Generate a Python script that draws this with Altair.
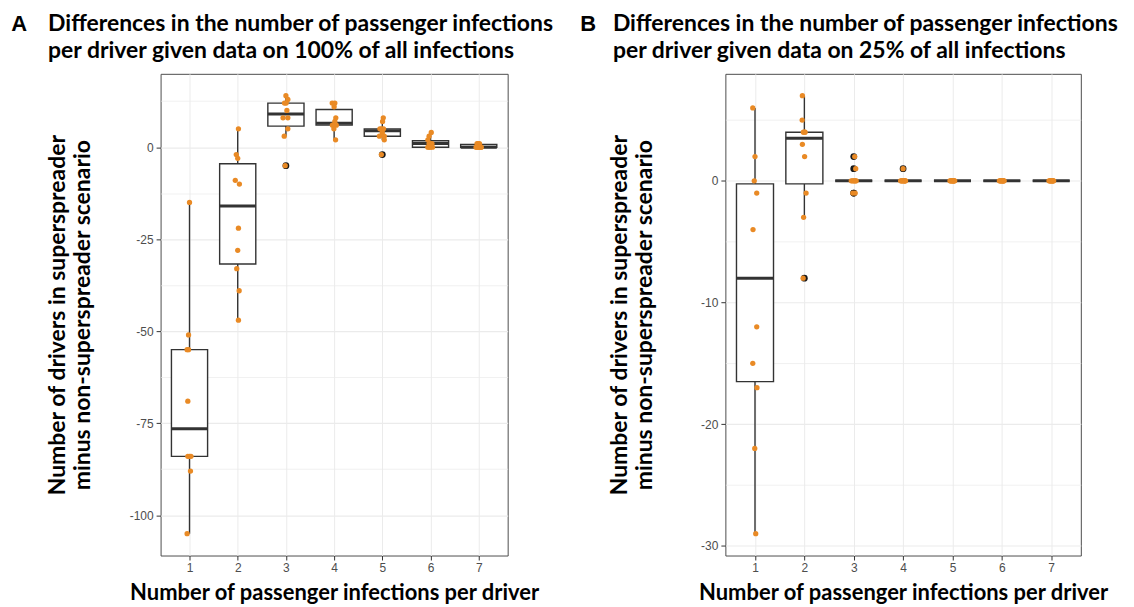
import math
import altair as alt
import pandas as pd

# ---------------- data ----------------
categories = [1, 2, 3, 4, 5, 6, 7]

# Panel A (100% of infections): values per category, with small horizontal jitter
a_cat1 = [-15, -51, -55, -55, -69, -84, -84, -84, -88, -105]
a_cat2 = [5, -2, -3, -9, -10, -22, -28, -33, -39, -47]
a_cat3 = [14, 13, 12, 12, 10, 8, 8, 5, 3, -5]
a_cat4 = [12, 12, 11, 8, 7, 6, 6, 6, 5, 2]
a_cat5 = [8, 7, 5, 5, 5, 4, 3, 3, 2, -2]
a_cat6 = [4, 3, 2, 1, 1, 1, 0, 0, 0, 0]
a_cat7 = [1, 1, 1, 0, 0, 0, 0, 0, 0, 0]

a_jit1 = [0.0, -0.02, -0.05, -0.02, -0.035, -0.035, 0.0, 0.03, 0.02, -0.05]
a_jit2 = [0.015, -0.03, 0.0, -0.05, 0.035, 0.015, 0.0, -0.02, 0.03, 0.015]
a_jit3 = [0.0, 0.04, 0.005, -0.03, 0.02, -0.06, 0.04, 0.04, -0.035, -0.015]
a_jit4 = [-0.04, 0.015, 0.0, 0.035, 0.015, -0.035, 0.045, 0.0, -0.005, 0.03]
a_jit5 = [0.02, 0.005, -0.015, 0.025, -0.05, 0.0, -0.06, 0.04, 0.04, -0.02]
a_jit6 = [0.015, -0.03, -0.055, -0.03, 0.03, 0.0, -0.055, 0.0, 0.04, -0.03]
a_jit7 = [-0.015, 0.015, -0.035, -0.055, 0.05, -0.02, 0.03, 0.0, 0.045, -0.04]

# Panel B (25% of infections)
b_cat1 = [6, 2, 0, -1, -4, -12, -15, -17, -22, -29]
b_cat2 = [7, 5, 4, 4, 4, 3, 2, -1, -3, -8]
b_cat3 = [2, 1, 0, 0, 0, 0, 0, 0, -1, -1]
b_cat4 = [1, 0, 0, 0, 0, 0, 0, 0, 0, 0]
b_cat5 = [0, 0, 0, 0, 0, 0, 0, 0, 0, 0]
b_cat6 = [0, 0, 0, 0, 0, 0, 0, 0, 0, 0]
b_cat7 = [0, 0, 0, 0, 0, 0, 0, 0, 0, 0]

b_jit1 = [-0.045, 0.0, -0.015, 0.035, -0.04, 0.035, -0.045, 0.04, -0.005, 0.015]
b_jit2 = [-0.04, -0.045, 0.0, -0.02, 0.015, -0.04, 0.005, 0.035, -0.015, -0.025]
b_jit3 = [0.02, 0.04, -0.05, 0.035, 0.0, -0.025, 0.05, 0.015, -0.02, 0.03]
b_jit4 = [0.0, -0.05, 0.035, -0.02, 0.05, 0.01, -0.035, 0.025, -0.01, 0.04]
b_jit5 = [-0.04, 0.03, -0.01, 0.045, -0.025, 0.015, 0.0, -0.05, 0.035, 0.01]
b_jit6 = [0.03, -0.035, 0.01, -0.015, 0.045, -0.05, 0.02, 0.0, -0.025, 0.04]
b_jit7 = [-0.02, 0.04, -0.045, 0.01, 0.025, -0.01, 0.05, -0.03, 0.0, 0.035]

title_a = ["Differences in the number of passenger infections",
           "per driver given data on 100% of all infections"]
title_b = ["Differences in the number of passenger infections",
           "per driver given data on 25% of all infections"]
y_title = ["Number of drivers in superspreader", "minus non-superspreader scenario"]
x_title = "Number of passenger infections per driver"

ORANGE = "#E98A25"
DARK = "#333333"
TITLE_FONT = "Lato"
FS = 23


def make_df(vals_lists, jit_lists):
    rows = []
    for c, vals, jits in zip(categories, vals_lists, jit_lists):
        for v, j in zip(vals, jits):
            rows.append({"cat": c, "value": v, "xj": c + j})
    return pd.DataFrame(rows)


def panel(df, letter, title_lines, major, letter_x, title_x, y_title_pad, width, height):
    vmin, vmax = float(df.value.min()), float(df.value.max())
    ext = (vmax - vmin) * 0.05
    ydom = [vmin - ext, vmax + ext]
    minor = major / 2.0
    kmin = math.ceil(ydom[0] / minor)
    kmax = math.floor(ydom[1] / minor)
    yvals = [k * minor for k in range(kmin, kmax + 1)]
    test = f"abs(datum.value % {major}) < 1e-9"

    xscale = alt.Scale(domain=[0.4, 7.6], nice=False, zero=False)
    yscale = alt.Scale(domain=ydom, nice=False, zero=False)

    xaxis = alt.Axis(values=categories, format="d", title=x_title, grid=True,
                     titlePadding=9.5, labelPadding=2.5, labelOverlap=False,
                     titleFontSize=22)
    yaxis = alt.Axis(values=yvals, title=y_title, grid=True, labelOverlap=False,
                     labelExpr=f"{test} ? toString(datum.value) : ''",
                     tickOpacity={"condition": {"test": test, "value": 1}, "value": 0},
                     gridWidth={"condition": {"test": test, "value": 1.1}, "value": 0.7},
                     titlePadding=y_title_pad, labelPadding=3, titleFontSize=FS)

    def X(field):
        return alt.X(field, scale=xscale, axis=xaxis)

    def Y(field):
        return alt.Y(field, scale=yscale, axis=yaxis)

    base = alt.Chart(df)

    fenced = base.transform_joinaggregate(
        q1="q1(value)", q3="q3(value)", groupby=["cat"]
    ).transform_calculate(
        lo="datum.q1 - 1.5 * (datum.q3 - datum.q1)",
        hi="datum.q3 + 1.5 * (datum.q3 - datum.q1)",
    )

    whiskers = fenced.transform_filter(
        "datum.value >= datum.lo && datum.value <= datum.hi"
    ).transform_aggregate(
        wmin="min(value)", wmax="max(value)", groupby=["cat"]
    ).mark_rule(color=DARK, strokeWidth=1.4).encode(
        x=X("cat:Q"), y=Y("wmin:Q"), y2="wmax:Q",
    )

    stats = base.transform_aggregate(
        q1="q1(value)", q3="q3(value)", med="median(value)", groupby=["cat"]
    ).transform_calculate(xl="datum.cat - 0.375", xr="datum.cat + 0.375")

    boxes = stats.mark_rect(fill="white", stroke=DARK, strokeWidth=1.4).encode(
        x=X("xl:Q"), x2="xr:Q", y=Y("q1:Q"), y2="q3:Q",
    )

    medians = stats.mark_rule(color=DARK, strokeWidth=3).encode(
        x=X("xl:Q"), x2="xr:Q", y=Y("med:Q"),
    )

    outliers = fenced.transform_filter(
        "datum.value < datum.lo || datum.value > datum.hi"
    ).mark_circle(color="#1a1a1a", size=46, opacity=1).encode(
        x=X("cat:Q"), y=Y("value:Q"),
    )

    points = base.mark_circle(color=ORANGE, size=28, opacity=1).encode(
        x=X("xj:Q"), y=Y("value:Q"),
    )

    one = pd.DataFrame({"t": [letter]})
    letter_mark = alt.Chart(one).mark_text(
        font="Liberation Sans", fontWeight="bold", fontSize=22, align="left",
        baseline="alphabetic", color="black"
    ).encode(x=alt.value(letter_x), y=alt.value(-43), text="t:N")

    line1 = alt.Chart(one).mark_text(
        font=TITLE_FONT, fontWeight="bold", fontSize=FS, align="left",
        baseline="alphabetic", color="black"
    ).encode(x=alt.value(title_x), y=alt.value(-43), text=alt.value(title_lines[0]))

    line2 = alt.Chart(one).mark_text(
        font=TITLE_FONT, fontWeight="bold", fontSize=FS, align="left",
        baseline="alphabetic", color="black"
    ).encode(x=alt.value(title_x), y=alt.value(-16), text=alt.value(title_lines[1]))

    return alt.layer(whiskers, boxes, medians, outliers, points,
                     letter_mark, line1, line2).properties(width=width, height=height)


df_a = make_df([a_cat1, a_cat2, a_cat3, a_cat4, a_cat5, a_cat6, a_cat7],
               [a_jit1, a_jit2, a_jit3, a_jit4, a_jit5, a_jit6, a_jit7])
df_b = make_df([b_cat1, b_cat2, b_cat3, b_cat4, b_cat5, b_cat6, b_cat7],
               [b_jit1, b_jit2, b_jit3, b_jit4, b_jit5, b_jit6, b_jit7])

pa = panel(df_a, "A", title_a, 25, -149.8, -112.8, 34.5, 348, 483)
pb = panel(df_b, "B", title_b, 10, -145.6, -112.8, 44.5, 356.4, 483)

chart = alt.hconcat(pa, pb, spacing=218.3, bounds="flush").properties(
    padding={"left": 2, "top": 3.2, "right": 5, "bottom": 0}
).configure_view(
    stroke="#4d4d4d", strokeWidth=1
).configure_axis(
    domain=False,
    labelFont="Liberation Sans", labelFontSize=12, labelColor="#4d4d4d",
    titleFont=TITLE_FONT, titleFontWeight="bold", titleColor="black",
    titleLineHeight=25,
    tickColor=DARK, tickSize=4.5, tickWidth=1,
    gridColor="#ebebeb",
)

chart.save("out.html", embed_options={"renderer": "svg", "actions": False})
